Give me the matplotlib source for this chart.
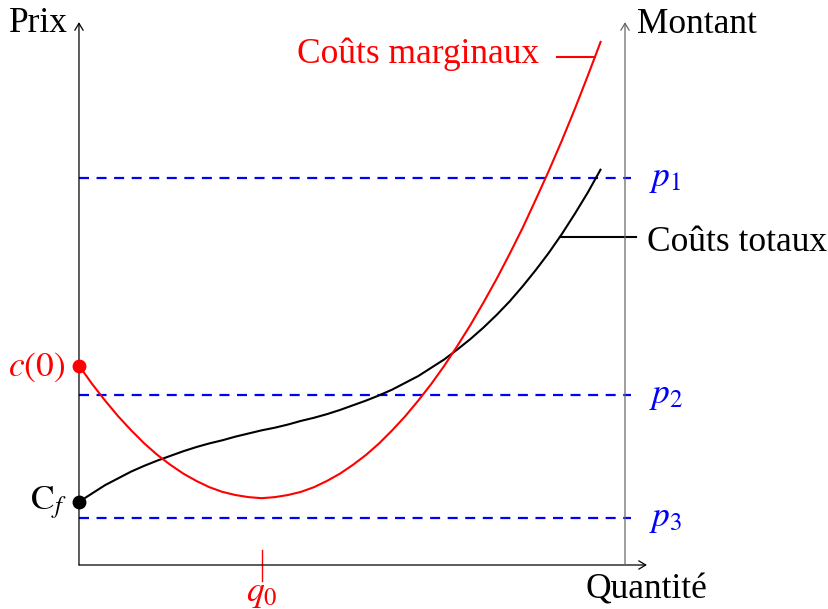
import matplotlib
matplotlib.use("Agg")
import matplotlib.pyplot as plt
import numpy as np

plt.rcParams["font.family"] = ["Liberation Serif", "DejaVu Serif"]
plt.rcParams["mathtext.fontset"] = "stix"

# quantity grid and the two cost curves
quantity = [0.0, 0.25, 0.5, 0.75, 1.0, 1.25, 1.5, 1.75, 2.0, 2.25, 2.5, 2.75,
            3.0, 3.25, 3.5, 3.75, 4.0, 4.25, 4.5, 4.75, 5.0, 5.25, 5.5, 5.75,
            6.0, 6.25, 6.5, 6.75, 7.0, 7.25, 7.5, 7.75, 8.0, 8.25, 8.5, 8.75,
            9.0, 9.25, 9.5, 9.75, 10.0]
marginal_cost = [3.82, 3.47, 3.15, 2.85, 2.58, 2.33, 2.11, 1.92, 1.75, 1.61, 1.49, 1.40,
                 1.34, 1.30, 1.28, 1.30, 1.34, 1.40, 1.49, 1.61, 1.75, 1.92, 2.11, 2.33,
                 2.58, 2.85, 3.15, 3.47, 3.82, 4.20, 4.60, 5.03, 5.48, 5.96, 6.46, 7.00,
                 7.55, 8.13, 8.74, 9.38, 10.04]
total_cost = [1.21, 1.37, 1.53, 1.66, 1.79, 1.90, 2.00, 2.09, 2.18, 2.26, 2.33, 2.39,
              2.46, 2.52, 2.58, 2.63, 2.69, 2.76, 2.82, 2.89, 2.97, 3.06, 3.15, 3.25,
              3.36, 3.49, 3.62, 3.78, 3.94, 4.13, 4.33, 4.55, 4.79, 5.05, 5.34, 5.65,
              5.98, 6.34, 6.73, 7.14, 7.59]
price_levels = [7.41, 3.26, 0.90]
price_labels = ["$p_1$", "$p_2$", "$p_3$"]
q0 = 3.5

FS = 25.5
RED, BLUE = "#ff0000", "#0000ff"

fig = plt.figure(figsize=(8.29, 6.09), dpi=100)
ax = fig.add_axes([0, 0, 1, 1])
ax.set_xlim(-1.513, 14.368)
ax.set_ylim(-0.843, 10.824)
ax.axis("off")

x_right = 10.46
arrow = dict(arrowstyle="->,head_length=0.5,head_width=0.3", lw=0.9,
             shrinkA=0, shrinkB=0, mutation_scale=10)
ax.annotate("", xy=(0, 10.40), xytext=(0, 0), arrowprops=dict(arrow, color="black"))
ax.annotate("", xy=(10.88, 0), xytext=(0, 0), arrowprops=dict(arrow, color="black"))
ax.annotate("", xy=(x_right, 10.40), xytext=(x_right, 0),
            arrowprops=dict(arrow, color="#666666"))

ax.text(-0.21, 10.21, "Prix", ha="right", va="baseline", fontsize=FS)
ax.text(10.69, 10.19, "Montant", ha="left", va="baseline", fontsize=FS)
ax.text(10.88, -0.64, "Quantité", ha="center", va="baseline", fontsize=FS)

# price levels
for lvl, lab in zip(price_levels, price_labels):
    ax.plot([0, 10.57], [lvl, lvl], color=BLUE, lw=1.6, ls=(0, (4.5, 3.4)))
    ax.text(10.92, lvl - 0.155, lab, color=BLUE, ha="left", va="baseline", fontsize=FS)

ax.plot(quantity, total_cost, color="black", lw=1.5, solid_capstyle="butt")
ax.plot(quantity, marginal_cost, color=RED, lw=1.5, solid_capstyle="butt")

ax.plot([0], [marginal_cost[0]], "o", color=RED, ms=9, zorder=5)
ax.plot([0], [total_cost[0]], "o", color="black", ms=9, zorder=5)
ax.text(-0.27, marginal_cost[0] - 0.19, "$c(0)$", color=RED, ha="right",
        va="baseline", fontsize=FS)
ax.text(-0.23, total_cost[0] - 0.14, r"$\mathrm{C}_f$", color="black", ha="right",
        va="baseline", fontsize=FS)

# q0 tick
ax.plot([q0, q0], [0.29, -0.30], color=RED, lw=1.0)
ax.text(q0, -0.69, "$q_0$", color=RED, ha="center", va="baseline", fontsize=FS)

# curve labels with pin lines
pin_m = 9.885
ym = np.interp(pin_m, quantity, marginal_cost)
ax.plot([9.16, pin_m], [ym, ym], color=RED, lw=1.5)
ax.text(8.82, 9.62, "Coûts marginaux", color=RED, ha="right", va="baseline", fontsize=FS)

pin_t = 9.21
yt = np.interp(pin_t, quantity, total_cost)
ax.plot([pin_t, 10.67], [yt, yt], color="black", lw=1.5)
ax.text(10.88, 6.02, "Coûts totaux", color="black", ha="left", va="baseline", fontsize=FS)

fig.savefig("out.png", dpi=100)
